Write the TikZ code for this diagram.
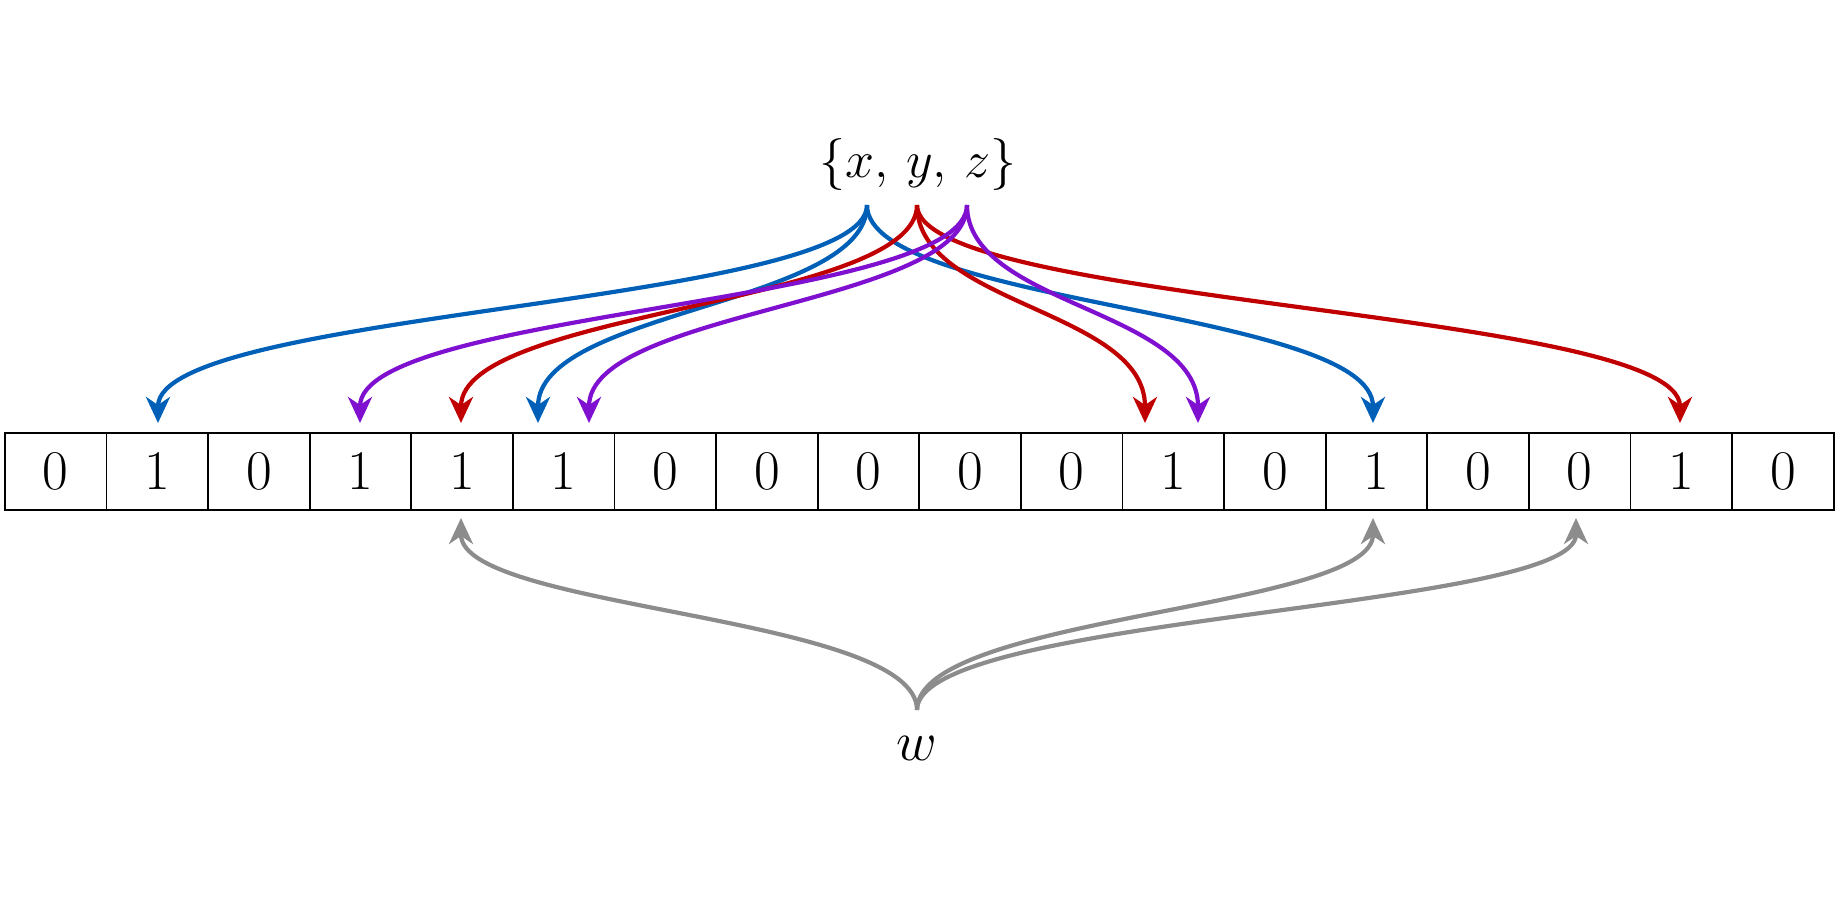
\RequirePackage{fix-cm}
\documentclass[tikz,border=0pt]{standalone}
\usetikzlibrary{arrows.meta}
\definecolor{cb}{HTML}{0060B8}
\definecolor{cr}{HTML}{C00000}
\definecolor{cp}{HTML}{8010D0}
\definecolor{cg}{HTML}{8C8C8C}
\begin{document}
\begin{tikzpicture}[x=1pt,y=-1pt,
  cell/.style={draw,line width=1.8pt,minimum width=101.6pt,minimum height=77pt,inner sep=0pt,anchor=north west,font=\fontsize{56}{60}\selectfont},
  arr/.style={line width=4.2pt,-{Stealth[length=26pt,width=24pt,inset=8pt]}}]
\useasboundingbox (0,0) rectangle (1836,918);
\foreach \v [count=\i from 0] in {0,1,0,1,1,1,0,0,0,0,0,1,0,1,0,0,1,0}
  \node[cell] (c\i) at ({4+101.6*\i},432) {\v};
\node[font=\fontsize{52}{58}\selectfont] (src) at (918,164) {$\{x,\,y,\,z\}$};
\node[font=\fontsize{56}{60}\selectfont] (w) at (917,748) {$w$};
\coordinate (sx) at (867,205);
\coordinate (sy) at (917,205);
\coordinate (sz) at (967,205);
\coordinate (sw) at (917,710);
\foreach \c/\s/\t in {cb/sx/158, cb/sx/538, cb/sx/1373, cr/sy/461, cr/sy/1145, cr/sy/1680, cp/sz/360, cp/sz/589, cp/sz/1198}
  \draw[arr,\c] (\s) .. controls ([yshift=-100pt]\s) and (\t,310) .. (\t,423);
\foreach \t in {461,1373,1576}
  \draw[arr,cg] (sw) .. controls ([yshift=95pt]sw) and (\t,610) .. (\t,518);
\end{tikzpicture}
\end{document}
